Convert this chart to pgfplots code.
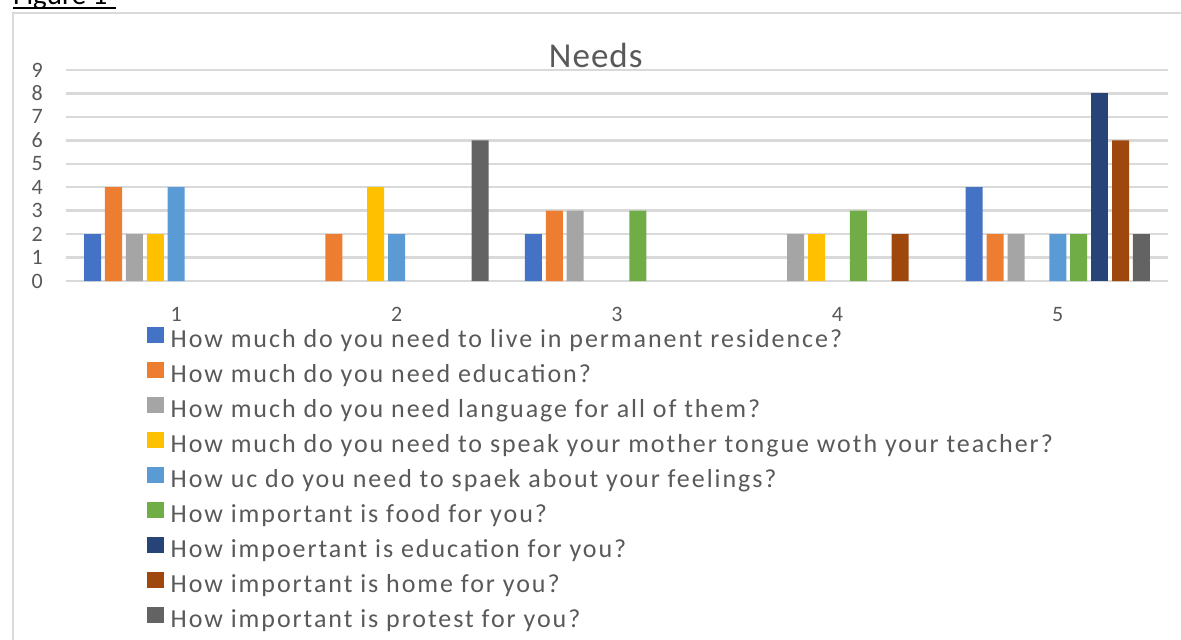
\documentclass[border=0pt]{standalone}
\usepackage{fontspec}
\setmainfont{Carlito}
\newfontfamily\legfont[LetterSpace=7.5]{Carlito}
\newfontfamily\titfont[LetterSpace=3]{Carlito}
\usepackage{pgfplots}
\pgfplotsset{compat=1.18}
\definecolor{sA}{HTML}{4472C4}
\definecolor{sB}{HTML}{ED7D31}
\definecolor{sC}{HTML}{A5A5A5}
\definecolor{sD}{HTML}{FFC000}
\definecolor{sE}{HTML}{5B9BD5}
\definecolor{sF}{HTML}{70AD47}
\definecolor{sG}{HTML}{264478}
\definecolor{sH}{HTML}{9E480E}
\definecolor{sI}{HTML}{636363}
\definecolor{gridc}{HTML}{D9D9D9}
\definecolor{txt}{HTML}{595959}
\pgfplotsset{
  mybar/.style={fill=#1, draw=none,
    legend image code/.code={\fill[#1] (0pt,-2pt) rectangle (17pt,14pt);}},
}
\begin{document}
\begin{tikzpicture}
\useasboundingbox (0pt,0pt) rectangle (1181pt,640pt);
\clip (0pt,0pt) rectangle (1181pt,640pt);
% frame
\draw[gridc, line width=2pt] (13pt,-20pt) -- (13pt,627pt) -- (1200pt,627pt);
% figure caption (cut off at the top, as in the reference)
\node[anchor=base west, inner sep=0pt, font=\fontsize{29}{34}\selectfont] at (13pt,635pt) {Figure 1};
\draw[black, line width=2pt] (13pt,631.5pt) -- (116pt,631.5pt);
\begin{axis}[
  at={(66pt,359pt)}, anchor=south west,
  scale only axis, width=1102pt, height=211pt,
  xmin=0.5, xmax=5.5, ymin=0, ymax=9,
  ybar=3.9pt, bar width=17pt,
  xtick={1,2,3,4,5}, ytick={0,1,...,9},
  axis line style={draw=none},
  major tick length=0pt,
  ymajorgrids, grid style={gridc, line width=2.5pt},
  /pgf/number format/assume math mode=true,
  yticklabel style={anchor=east, inner sep=0pt, xshift=-23pt, text=txt, font=\fontsize{22}{26}\selectfont},
  xticklabel style={anchor=north, inner sep=0pt, yshift=-26pt, text=txt, font=\fontsize{22}{26}\selectfont},
  title={Needs},
  title style={at={(0.4807,1)}, anchor=base, yshift=-3pt, text=txt, font=\titfont\fontsize{35}{40}\selectfont},
  legend style={at={(0.0732,-0.2166)}, anchor=north west, draw=none, fill=none,
    inner sep=0pt, outer sep=0pt, row sep=8.5pt, column sep=7pt,
    font=\legfont\fontsize{26}{30}\selectfont, text=txt,
    nodes={inner sep=0pt, text height=19pt, text depth=6pt}},
  legend cell align=left,
]
\addplot[mybar=sA] coordinates {(1,2) (3,2) (5,4)};
\addplot[mybar=sB] coordinates {(1,4) (2,2) (3,3) (5,2)};
\addplot[mybar=sC] coordinates {(1,2) (3,3) (4,2) (5,2)};
\addplot[mybar=sD] coordinates {(1,2) (2,4) (4,2)};
\addplot[mybar=sE] coordinates {(1,4) (2,2) (5,2)};
\addplot[mybar=sF] coordinates {(3,3) (4,3) (5,2)};
\addplot[mybar=sG] coordinates {(5,8)};
\addplot[mybar=sH] coordinates {(4,2) (5,6)};
\addplot[mybar=sI] coordinates {(2,6) (5,2)};
\legend{How much do you need to live in permanent residence?,
How much do you need education?,
How much do you need language for all of them?,
How much do you need to speak your mother tongue woth your teacher?,
How uc do you need to spaek about your feelings?,
How important is food for you?,
How impoertant is education for you?,
How important is home for you?,
How important is protest for you?}
\end{axis}
\end{tikzpicture}
\end{document}
